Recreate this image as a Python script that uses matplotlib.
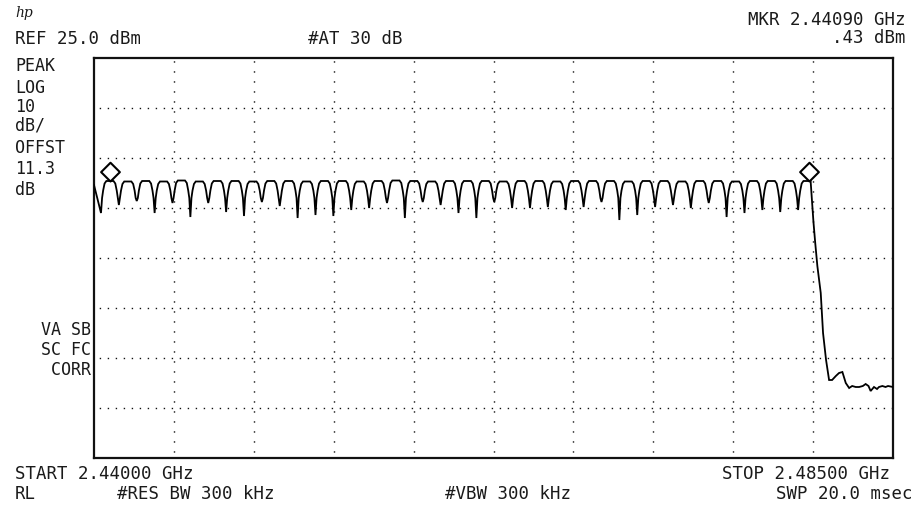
import numpy as np
import matplotlib
matplotlib.use("Agg")
import matplotlib.pyplot as plt
from matplotlib.path import Path

# ---------------- data ----------------
f_start, f_stop = 2.44000, 2.48500          # GHz
ref_level, db_per_div = 25.0, 10.0          # dBm, dB/div

# 40 hopping channels: dip (gap) frequencies before each channel hump
first_dip_ghz = 2.440394
chan_spacing_ghz = 0.0010067
dip_levels = [-6.0, -4.4, -3.6, -6.0, -4.0, -6.8, -4.0, -5.8, -6.6, -3.8,
              -4.6, -7.0, -6.4, -6.6, -5.4, -5.0, -4.0, -7.0, -3.8, -4.4,
              -6.0, -7.0, -3.8, -5.0, -5.0, -4.8, -5.4, -4.8, -3.8, -7.4,
              -6.4, -4.8, -4.4, -5.0, -4.0, -6.8, -6.0, -5.4, -5.8, -5.4]
peak_levels = [0.4, 0.3, 0.4, 0.3, 0.5, 0.3, 0.4, 0.4, 0.3, 0.4,
               0.4, 0.3, 0.4, 0.4, 0.3, 0.4, 0.5, 0.4, 0.3, 0.4,
               0.4, 0.4, 0.3, 0.4, 0.4, 0.3, 0.4, 0.4, 0.4, 0.3,
               0.4, 0.4, 0.3, 0.4, 0.4, 0.3, 0.4, 0.4, 0.4, 0.4]
start_level = -0.4

# band-edge roll-off and noise floor
rolloff_freq = [2.48052, 2.48062, 2.48074, 2.48093, 2.48106, 2.48123,
                2.48140, 2.48157, 2.48178, 2.48196, 2.48215, 2.48234,
                2.48253, 2.48270, 2.48290, 2.48309, 2.48330, 2.48346,
                2.48362, 2.48374, 2.48393, 2.48410, 2.48421, 2.48440,
                2.48458, 2.48472, 2.48500]
rolloff_level = [-7.8, -12.0, -16.6, -22.0, -30.0, -35.4,
                 -39.4, -39.4, -38.6, -38.0, -37.8, -40.0,
                 -41.0, -40.6, -40.8, -40.8, -40.6, -40.2,
                 -40.6, -41.6, -40.8, -41.2, -40.8, -40.6,
                 -40.8, -40.6, -40.8]

marker_freq = [2.44090, 2.480275]
marker_level = [0.43, 0.40]

# hump shape template (fraction of channel spacing)
hump_pos = [0.06, 0.12, 0.20, 0.30, 0.70, 0.80, 0.88, 0.94]

# ---------------- build trace ----------------
freqs = [f_start]
levels = [start_level]
n = len(dip_levels)
for k in range(n):
    fd = first_dip_ghz + k * chan_spacing_ghz
    p = peak_levels[k]
    freqs.append(fd)
    levels.append(dip_levels[k])
    shape = [-3.0, -1.5, p - 0.5, p, p, p - 0.5, -1.5, -3.0]
    for pos, lv in zip(hump_pos, shape):
        if k == n - 1 and pos > 0.75:
            break
        freqs.append(fd + pos * chan_spacing_ghz)
        levels.append(lv)
freqs += rolloff_freq
levels += rolloff_level

# ---------------- figure ----------------
W, H = 919, 508
fig = plt.figure(figsize=(W / 100, H / 100), dpi=100)
fig.patch.set_facecolor("white")
ax = fig.add_axes([94 / W, (H - 458) / H, 799 / W, 400 / H])
ax.set_xlim(f_start, f_stop)
ax.set_ylim(ref_level - 8 * db_per_div, ref_level)
ax.set_xticks([])
ax.set_yticks([])
for s in ax.spines.values():
    s.set_linewidth(1.6)
    s.set_color("#111111")

# dotted graticule
glw = 1.0
for i in range(1, 10):
    fx = f_start + i * (f_stop - f_start) / 10
    ax.axvline(fx, color="#111111", lw=glw, linestyle=(3, (1, 6.2)), zorder=1)
for j in range(1, 8):
    ly = ref_level - j * db_per_div
    ax.axhline(ly, color="#111111", lw=glw, linestyle=(2, (1, 4.76)), zorder=1)

ax.plot(freqs, levels, color="black", lw=1.3, zorder=3, solid_joinstyle="miter")

diamond = Path([(0, 0), (0.5, 0.5), (0, 1), (-0.5, 0.5), (0, 0)],
               [Path.MOVETO, Path.LINETO, Path.LINETO, Path.LINETO, Path.CLOSEPOLY])
ax.plot(marker_freq, marker_level, linestyle="none", marker=diamond,
        markersize=27, markerfacecolor="white", markeredgecolor="black",
        markeredgewidth=1.5, zorder=4)

# ---------------- annotations ----------------
mono = "DejaVu Sans Mono"
fs = 12.5
tc = "#1a1a1a"


def put(x, y, s, ha="left", size=fs, **kw):
    fig.text(x / W, 1 - y / H, s, ha=ha, va="center", fontsize=size,
             family=mono, color=tc, **kw)


fig.text(15 / W, 1 - 13 / H, "hp", ha="left", va="center", fontsize=10,
         style="italic", family="DejaVu Serif", color=tc)
put(15, 39, "REF 25.0 dBm")
put(355, 39, "#AT 30 dB", ha="center")
put(905, 20, "MKR 2.44090 GHz", ha="right")
put(905, 38, ".43 dBm", ha="right")

for y, s in [(66, "PEAK"), (88, "LOG"), (107, "10"), (126, "dB/"),
             (148, "OFFST"), (169, "11.3"), (190, "dB")]:
    put(15, y, s, size=12)
for y, s in [(330, "VA SB"), (350, "SC FC"), (370, " CORR")]:
    put(91, y, s, ha="right", size=12)

put(15, 474, "START 2.44000 GHz")
put(15, 494, "RL")
put(196, 494, "#RES BW 300 kHz", ha="center")
put(508, 494, "#VBW 300 kHz", ha="center")
put(890, 474, "STOP 2.48500 GHz", ha="right")
put(912, 494, "SWP 20.0 msec", ha="right")

fig.savefig("out.png", dpi=100, facecolor="white")
